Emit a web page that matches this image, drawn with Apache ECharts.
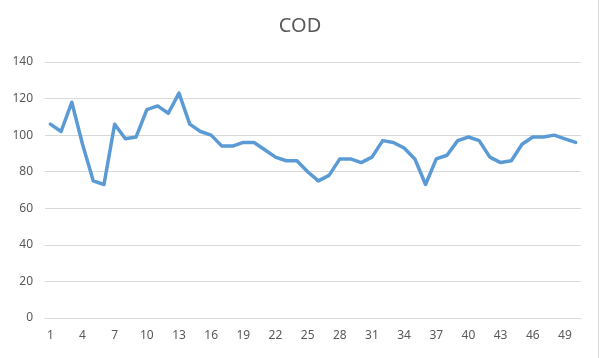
<!DOCTYPE html>
<html>
<head>
<meta charset="utf-8">
<script src="https://cdn.jsdelivr.net/npm/echarts@6/dist/echarts.min.js"></script>
<style>
html,body{margin:0;padding:0;background:#fff;}
#chart{width:600px;height:358px;}
</style>
</head>
<body>
<div id="chart"></div>
<script>
const titleText = 'COD';
const categories = [];
for (let i = 1; i <= 50; i++) categories.push(String(i));
const codValues = [106, 102, 118, 95, 75, 73, 106, 98, 99, 114,
                   116, 112, 123, 106, 102, 100, 94, 94, 96, 96,
                   92, 88, 86, 86, 80, 75, 78, 87, 87, 85,
                   88, 97, 96, 93, 87, 73, 87, 89, 97, 99,
                   97, 88, 85, 86, 95, 99, 99, 100, 98, 96];
const yTicks = {min: 0, max: 140, interval: 20};

const chart = echarts.init(document.getElementById('chart'), null, {renderer: 'canvas'});
chart.setOption({
  animation: false,
  backgroundColor: '#ffffff',
  title: {
    text: titleText, left: 'center', top: 11,
    textStyle: {fontFamily: 'Noto Sans', fontSize: 20, fontWeight: 'normal', color: '#595959'}
  },
  grid: {left: 45, right: 19, top: 62, bottom: 40, containLabel: false},
  xAxis: {
    type: 'category', data: categories, boundaryGap: true,
    axisLine: {lineStyle: {color: '#d9d9d9', width: 1}},
    axisTick: {show: false},
    axisLabel: {interval: 2, color: '#595959', fontSize: 12, fontFamily: 'Noto Sans', margin: 12}
  },
  yAxis: {
    type: 'value', min: yTicks.min, max: yTicks.max, interval: yTicks.interval,
    axisLine: {show: false}, axisTick: {show: false},
    axisLabel: {color: '#595959', fontSize: 12, fontFamily: 'Noto Sans', margin: 12},
    splitLine: {lineStyle: {color: '#d9d9d9', width: 1}}
  },
  series: [{
    type: 'line', data: codValues, symbol: 'none',
    lineStyle: {color: '#5b9bd5', width: 3.5, join: 'round', cap: 'round'},
    itemStyle: {color: '#5b9bd5'}
  }],
  graphic: [{
    type: 'line', shape: {x1: 598.5, y1: 0, x2: 598.5, y2: 358},
    style: {stroke: '#d9d9d9', lineWidth: 1}
  }]
});
</script>
</body>
</html>
